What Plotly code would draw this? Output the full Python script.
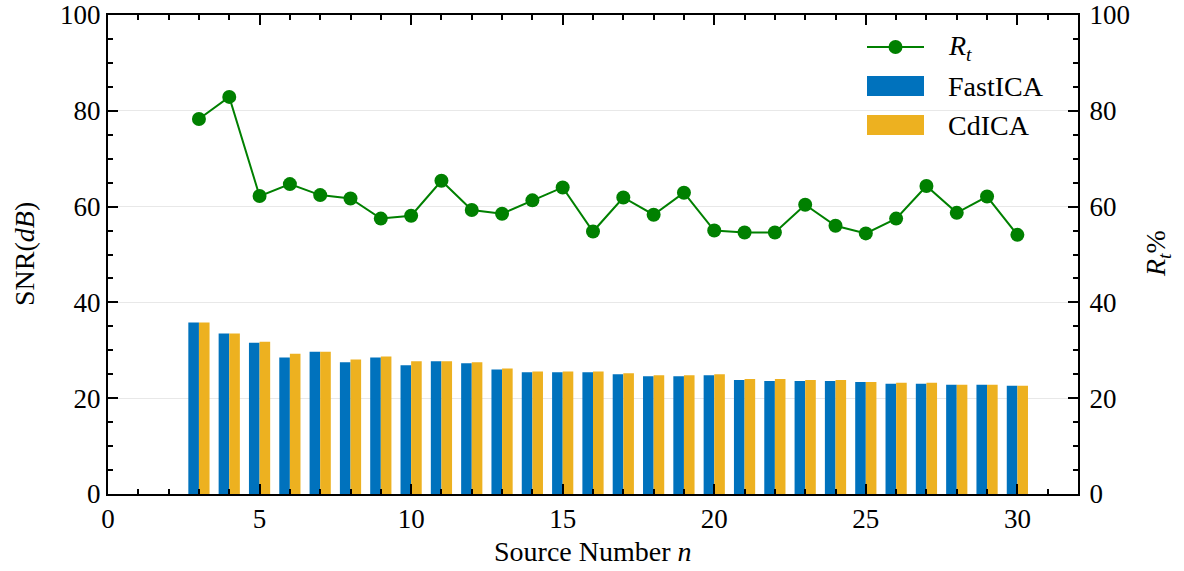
import plotly.graph_objects as go

# Source counts on the x axis
n_sources = list(range(3, 31))

# Output SNR (dB) for each method
snr_fastica = [35.8, 33.5, 31.6, 28.5, 29.7, 27.5, 28.5, 26.9, 27.7, 27.3,
               26.0, 25.4, 25.4, 25.4, 25.0, 24.6, 24.6, 24.8, 23.8, 23.6,
               23.6, 23.6, 23.4, 23.0, 23.0, 22.8, 22.8, 22.6]
snr_cdica = [35.8, 33.5, 31.8, 29.3, 29.7, 28.1, 28.7, 27.7, 27.7, 27.5,
             26.2, 25.6, 25.6, 25.6, 25.2, 24.8, 24.8, 25.0, 24.0, 24.0,
             23.8, 23.8, 23.4, 23.2, 23.2, 22.8, 22.8, 22.6]

# Time ratio R_t (%)
r_t = [78.3, 82.9, 62.2, 64.7, 62.4, 61.7, 57.5, 58.1, 65.4, 59.3,
       58.5, 61.3, 64.0, 54.8, 61.9, 58.3, 62.9, 55.0, 54.6, 54.6,
       60.4, 56.0, 54.4, 57.5, 64.3, 58.7, 62.1, 54.1]

legend_names = ["<i>R</i><sub><i>t</i></sub>", "FastICA", "CdICA"]
x_title = "Source Number <i>n</i>"
y_title = "SNR(<i>dB</i>)"
y2_title = "<i>R</i><sub><i>t</i></sub>%"

FONT = "Liberation Serif"
FS = 28
TICK_FS = 27
BLUE = "#0072BD"
YELLOW = "#EDB120"
GREEN = "#008000"

W, H = 1184, 571
ML, MR, MT, MB = 108, 106, 15, 77
PW, PH = W - ML - MR, H - MT - MB


def px(xpix):
    return (xpix - ML) / PW


def py(ypix):
    return (H - MB - ypix) / PH


fig = go.Figure()

fig.add_trace(go.Scatter(
    x=n_sources, y=r_t, yaxis="y2", name=legend_names[0],
    mode="lines+markers",
    line=dict(color=GREEN, width=2),
    marker=dict(color=GREEN, size=14),
))
fig.add_trace(go.Bar(
    x=n_sources, y=snr_fastica, name=legend_names[1],
    marker=dict(color=BLUE, line=dict(width=0)),
))
fig.add_trace(go.Bar(
    x=n_sources, y=snr_cdica, name=legend_names[2],
    marker=dict(color=YELLOW, line=dict(width=0)),
))

# Legend box drawn in paper space with wide swatches
sw_x0, sw_x1, txt_x = 867, 924, 946
rows = [47, 86, 125]
shapes = [
    dict(type="line", xref="paper", yref="paper",
         x0=px(sw_x0), x1=px(sw_x1), y0=py(rows[0]), y1=py(rows[0]),
         line=dict(color=GREEN, width=2)),
    dict(type="circle", xref="paper", yref="paper",
         x0=px((sw_x0 + sw_x1) / 2 - 7), x1=px((sw_x0 + sw_x1) / 2 + 7),
         y0=py(rows[0] + 7), y1=py(rows[0] - 7),
         fillcolor=GREEN, line=dict(color=GREEN, width=0)),
]
for row, col in zip(rows[1:], [BLUE, YELLOW]):
    shapes.append(dict(type="rect", xref="paper", yref="paper",
                       x0=px(sw_x0), x1=px(sw_x1),
                       y0=py(row + 10), y1=py(row - 10),
                       fillcolor=col, line=dict(width=0)))

text_font = dict(family=FONT, size=FS, color="black")
annotations = [
    dict(text=name, xref="paper", yref="paper", x=px(txt_x), y=py(row),
         xanchor="left", yanchor="middle", showarrow=False, font=text_font)
    for name, row in zip(legend_names, rows)
]
# Axis titles
annotations += [
    dict(text=x_title, xref="paper", yref="paper", x=px(593), y=py(551),
         xanchor="center", yanchor="middle", showarrow=False, font=text_font),
    dict(text=y_title, xref="paper", yref="paper", x=px(24), y=py(254),
         xanchor="center", yanchor="middle", textangle=-90, showarrow=False,
         font=text_font),
    dict(text=y2_title, xref="paper", yref="paper", x=px(1157), y=py(254),
         xanchor="center", yanchor="middle", textangle=-90, showarrow=False,
         font=text_font),
]

axis_common = dict(
    showline=True, linecolor="black", linewidth=2,
    ticks="inside", tickcolor="black", tickwidth=2, ticklen=10,
    tickfont=dict(family=FONT, size=TICK_FS, color="black"),
    zeroline=False, ticklabeloverflow="allow", automargin=False,
)
minor_common = dict(ticks="inside", ticklen=5, tickcolor="black",
                    tickwidth=1.5, showgrid=False)

fig.update_layout(
    width=W, height=H,
    margin=dict(l=ML, r=MR, t=MT, b=MB),
    paper_bgcolor="white", plot_bgcolor="white",
    barmode="group", bargap=0.3, bargroupgap=0,
    font=text_font,
    showlegend=False,
    shapes=shapes,
    annotations=annotations,
    xaxis=dict(
        **axis_common,
        range=[0, 32], dtick=5, tick0=0, mirror="ticks",
        showgrid=False, ticklabelstandoff=0,
        minor=dict(dtick=1, **minor_common),
    ),
    yaxis=dict(
        **axis_common,
        range=[0, 100], dtick=20, tick0=0,
        showgrid=True, gridcolor="#e8e8e8", gridwidth=1,
        minor=dict(dtick=5, **minor_common),
    ),
    yaxis2=dict(
        **axis_common,
        overlaying="y", side="right",
        range=[0, 100], dtick=20, tick0=0,
        showgrid=False, ticklabelstandoff=4,
        minor=dict(dtick=5, **minor_common),
    ),
)

fig.write_html("out.html")
